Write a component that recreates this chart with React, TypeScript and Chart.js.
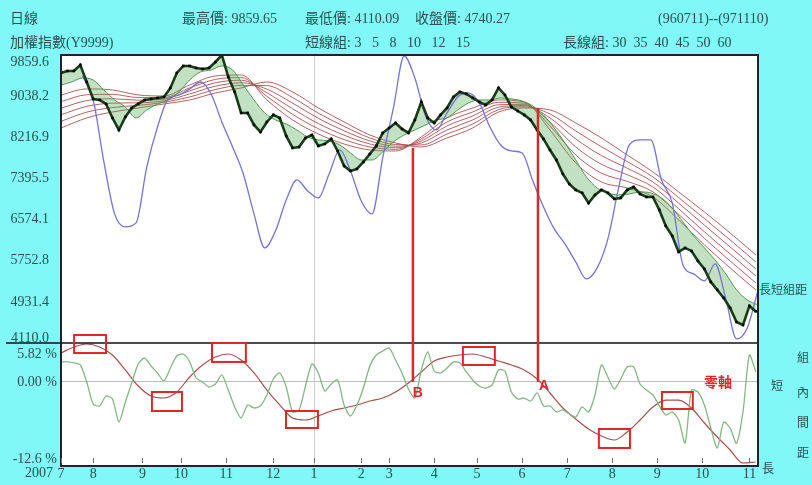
import React, { useEffect, useRef } from 'react';
import { Chart, registerables } from 'chart.js';

Chart.register(...registerables);

// ---------- axis categories / ticks ----------
const monthDays = [0, 15, 38, 56, 77, 99, 118, 140, 153, 174, 194, 215, 236, 257, 278, 299, 321];
const monthLabels = ['7', '8', '9', '10', '11', '12', '1', '2', '3', '4', '5', '6', '7', '8', '9', '10', '11'];
const priceTicks = [9859.6, 9038.2, 8216.9, 7395.5, 6574.1, 5752.8, 4931.4, 4110.0];
const spreadTicks = [5.82, 0, -12.6];
const spreadTickLabels = ['5.82 %', '0.00 %', '-12.6 %'];

// ---------- trading-day positions of the samples ----------
const days3 = [0, 3, 6, 9, 12, 15, 18, 21, 24, 27, 30, 33, 36, 39, 42, 45, 48, 51, 54, 57, 60, 63, 66, 69, 72, 75, 78, 81, 84, 87, 90, 93, 96, 99, 102, 105, 108, 111, 114, 117, 120, 123, 126, 129, 132, 135, 138, 141, 144, 147, 150, 153, 156, 159, 162, 165, 168, 171, 174, 177, 180, 183, 186, 189, 192, 195, 198, 201, 204, 207, 210, 213, 216, 219, 222, 225, 228, 231, 234, 237, 240, 243, 246, 249, 252, 255, 258, 261, 264, 267, 270, 273, 276, 279, 282, 285, 288, 291, 294, 297, 300, 303, 306, 309, 312, 315, 318, 321, 324];
const days5 = [0, 5, 10, 15, 20, 25, 30, 35, 40, 45, 50, 55, 60, 65, 70, 75, 80, 85, 90, 95, 100, 105, 110, 115, 120, 125, 130, 135, 140, 145, 150, 155, 160, 165, 170, 175, 180, 185, 190, 195, 200, 205, 210, 215, 220, 225, 230, 235, 240, 245, 250, 255, 260, 265, 270, 275, 280, 285, 290, 295, 300, 305, 310, 315, 320, 325];
const days6 = [0, 6, 12, 18, 24, 30, 36, 42, 48, 54, 60, 66, 72, 78, 84, 90, 96, 102, 108, 114, 120, 126, 132, 138, 144, 150, 156, 162, 168, 174, 180, 186, 192, 198, 204, 210, 216, 222, 228, 234, 240, 246, 252, 258, 264, 270, 276, 282, 288, 294, 300, 306, 312, 318, 324];
const days12 = [0, 12, 24, 36, 48, 60, 72, 84, 96, 108, 120, 132, 144, 156, 168, 180, 192, 204, 216, 228, 240, 252, 264, 276, 288, 300, 312, 324];

// ---------- upper panel: index (Y9999) ----------
const closePrice = [9501, 9541, 9541, 9661, 9321, 8982, 8962, 8882, 8603, 8363, 8623, 8802, 8882, 8962, 8982, 9002, 9022, 9202, 9501, 9641, 9641, 9601, 9581, 9601, 9720, 9859.65, 9421, 9122, 8703, 8703, 8463, 8323, 8523, 8663, 8603, 8243, 8004, 8024, 8204, 8263, 8044, 8084, 8184, 7944, 7645, 7545, 7585, 7724, 7884, 8044, 8303, 8403, 8503, 8383, 8303, 8563, 8922, 8603, 8503, 8663, 8802, 9022, 9122, 9082, 9002, 8922, 8862, 8962, 9202, 9062, 8822, 8742, 8663, 8563, 8363, 8184, 7964, 7764, 7485, 7285, 7166, 7106, 6906, 7066, 7166, 7106, 6986, 7006, 7166, 7225, 7086, 7026, 7026, 6766, 6447, 6247, 5928, 6008, 5948, 5748, 5589, 5329, 5170, 5010, 4810, 4530, 4470, 4850, 4740.27];

// short group (slowest line, 15)
const shortMa15 = [9261, 9321, 9401, 9361, 9162, 8962, 8822, 8603, 8762, 8882, 8962, 9122, 9361, 9521, 9561, 9641, 9561, 9261, 8962, 8703, 8563, 8483, 8363, 8224, 8164, 8144, 8064, 7904, 7764, 7764, 7924, 8124, 8263, 8363, 8463, 8563, 8603, 8762, 8902, 8962, 8962, 9002, 8982, 8942, 8842, 8663, 8403, 8104, 7764, 7425, 7206, 7106, 7066, 7086, 7126, 7106, 7006, 6806, 6527, 6247, 6008, 5768, 5489, 5170, 4970, 4870];

// long group 30 35 40 45 50 60
const longMa30 = [9062, 9182, 9162, 9062, 9042, 9261, 9441, 9461, 8962, 8563, 8283, 8084, 7964, 7944, 8224, 8603, 8802, 8962, 8922, 8363, 7705, 7325, 7206, 7026, 6567, 6068, 5609, 5170];
const longMa35 = [8930, 9066, 9074, 9010, 9010, 9202, 9373, 9409, 9034, 8675, 8387, 8172, 8024, 7976, 8184, 8523, 8723, 8914, 8898, 8443, 7864, 7501, 7337, 7126, 6679, 6200, 5748, 5309];
const longMa40 = [8798, 8950, 8986, 8958, 8978, 9142, 9305, 9357, 9106, 8786, 8491, 8259, 8084, 8008, 8144, 8443, 8643, 8866, 8874, 8523, 8024, 7677, 7469, 7225, 6790, 6331, 5888, 5449];
const longMa45 = [8667, 8834, 8898, 8906, 8946, 9082, 9237, 9305, 9178, 8898, 8595, 8347, 8144, 8040, 8104, 8363, 8563, 8818, 8850, 8603, 8184, 7852, 7601, 7325, 6902, 6463, 6028, 5589];
const longMa50 = [8535, 8719, 8810, 8854, 8914, 9022, 9170, 9253, 9249, 9010, 8699, 8435, 8204, 8072, 8064, 8283, 8483, 8770, 8826, 8683, 8343, 8028, 7732, 7425, 7014, 6595, 6168, 5728];
const longMa60 = [8403, 8603, 8722, 8802, 8882, 8962, 9102, 9202, 9321, 9122, 8802, 8523, 8263, 8104, 8024, 8204, 8403, 8722, 8802, 8762, 8503, 8204, 7864, 7525, 7126, 6726, 6307, 5868];

// blue indicator line (on price scale)
const indicatorLine = [null, null, 9441, 8962, 7724, 6687, 6427, 6507, 7625, 8423, 8982, 9062, 9182, 9321, 9082, 8523, 8024, 7485, 6687, 6008, 6347, 6966, 7365, 7146, 7006, 7485, 7964, 7545, 6946, 6687, 7804, 8802, 9840, 9401, 8643, 8363, 8703, 9022, 9102, 8902, 8423, 8064, 7944, 7904, 7345, 6826, 6387, 6088, 5728, 5389, 5609, 6188, 7205, 8064, 8164, 8164, 7365, 6906, 5669, 5489, 5349, 5689, 4990, 4192, 4411, 5167];

// ---------- lower panel: intra-group spread (%) ----------
const shortSpread = [2.98, 2.98, 2.83, 2.53, -0.02, -3.31, -3.61, -2.12, -2.57, -6.01, -3.02, -0.17, 2.68, 3.57, 2.38, 1.33, 0.13, 2.08, 3.87, 4.17, 2.98, 0.58, -0.02, -0.77, -0.32, 1.03, -1.22, -3.76, -5.41, -3.46, -3.91, -3.61, -1.97, 0.43, 1.33, -0.77, -4.51, -4.21, -0.62, 2.68, 1.33, -1.37, -0.32, 0.28, -3.46, -5.11, -3.46, -0.92, 2.38, 4.02, 4.62, 5.07, 3.27, 1.33, -1.07, -2.42, 1.78, 4.47, 1.63, 1.33, 2.08, 2.98, 2.83, 1.48, 0.28, -0.62, -0.92, -0.47, 1.78, 1.63, -1.52, -2.57, -2.42, -2.87, -1.67, -3.61, -3.61, -4.51, -4.21, -4.81, -5.26, -3.76, -4.51, -1.97, 2.53, 0.73, -1.07, 0.43, 2.23, 2.23, -0.32, -1.22, -1.97, -3.61, -4.96, -4.51, -5.71, -9.15, -1.22, -1.52, -3.46, -6.91, -9.9, -6.01, -6.91, -9.2, -4.5, 4.02, 1.48];
const longSpread = [4.32, 5.22, 5.67, 5.22, 4.02, 1.78, -0.62, -2.12, -2.42, -1.52, 0.73, 2.53, 3.72, 4.17, 3.27, 1.33, -1.22, -3.46, -5.41, -5.71, -5.11, -4.36, -3.91, -3.46, -2.87, -2.42, -1.52, -0.17, 1.48, 3.12, 3.72, 4.02, 4.17, 3.72, 3.12, 2.53, 1.78, 0.43, -1.67, -3.91, -5.56, -7.06, -8.11, -8.71, -7.51, -5.71, -3.76, -2.72, -2.72, -3.91, -6.16, -8.26, -10.2, -12.15, -12.0];

// ---------- annotations (data coordinates) ----------
const highlightBoxes = [
  { d0: 6.1, d1: 21.0, v0: 7.02, v1: 4.32 },
  { d0: 42.4, d1: 56.4, v0: -1.52, v1: -4.36 },
  { d0: 70.4, d1: 86.2, v0: 5.82, v1: 2.98 },
  { d0: 104.9, d1: 119.8, v0: -4.36, v1: -6.91 },
  { d0: 187.4, d1: 202.3, v0: 5.22, v1: 2.53 },
  { d0: 250.8, d1: 265.3, v0: -7.06, v1: -9.9 },
  { d0: 280.2, d1: 294.6, v0: -1.52, v1: -4.06 },
];
const crossMarkers = [
  { label: 'B', day: 164.1, upper: 8004, labelDay: 166.4, labelValue: -1.67 },
  { label: 'A', day: 222.4, upper: 8802, labelDay: 225.2, labelValue: -0.62 },
];

const FONT = "'Liberation Serif', 'Noto Sans CJK TC', serif";
const CJK = "'Noto Sans CJK TC', 'Liberation Serif', sans-serif";
const TEXT = '#2b4f4f';

const pts = (xs: number[], ys: (number | null)[]) => ys.map((y, i) => ({ x: xs[i], y }));

const overlayPlugin = {
  id: 'overlay',
  beforeDraw(chart: any) {
    const { ctx, chartArea: a } = chart;
    ctx.save();
    ctx.fillStyle = '#80f8f8';
    ctx.fillRect(0, 0, chart.width, chart.height);
    ctx.fillStyle = '#ffffff';
    ctx.fillRect(a.left, a.top, a.right - a.left, a.bottom - a.top);
    ctx.restore();
  },
  afterDraw(chart: any) {
    const { ctx, chartArea: a, scales } = chart;
    const xs = scales.x;
    const yu = scales.yUp;
    const yl = scales.yLow;
    ctx.save();

    // panel separator
    ctx.strokeStyle = '#111';
    ctx.lineWidth = 1.5;
    ctx.beginPath();
    ctx.moveTo(6, yu.bottom);
    ctx.lineTo(a.right, yu.bottom);
    ctx.stroke();

    // frame
    ctx.strokeStyle = '#1c2626';
    ctx.lineWidth = 2;
    ctx.strokeRect(a.left, a.top, a.right - a.left, a.bottom - a.top);

    // inner tick marks
    ctx.strokeStyle = '#6a7272';
    ctx.lineWidth = 1;
    monthDays.forEach((d) => {
      const px = Math.round(xs.getPixelForValue(d)) + 0.5;
      ctx.beginPath();
      ctx.moveTo(px, a.bottom - 8);
      ctx.lineTo(px, a.bottom - 3);
      ctx.stroke();
    });

    // crossing markers (vertical red lines)
    ctx.strokeStyle = '#d42a2a';
    ctx.lineWidth = 2.5;
    crossMarkers.forEach((m) => {
      const px = xs.getPixelForValue(m.day);
      ctx.beginPath();
      ctx.moveTo(px, yu.getPixelForValue(m.upper));
      ctx.lineTo(px, yl.getPixelForValue(0));
      ctx.stroke();
    });
    ctx.fillStyle = '#e02626';
    ctx.font = "bold 14px 'Liberation Sans', sans-serif";
    ctx.textAlign = 'center';
    ctx.textBaseline = 'middle';
    crossMarkers.forEach((m) => {
      ctx.fillText(m.label, xs.getPixelForValue(m.labelDay), yl.getPixelForValue(m.labelValue));
    });

    // highlight boxes
    ctx.strokeStyle = '#e02626';
    ctx.lineWidth = 2;
    highlightBoxes.forEach((b) => {
      const x0 = xs.getPixelForValue(b.d0);
      const x1 = xs.getPixelForValue(b.d1);
      const y0 = yl.getPixelForValue(b.v0);
      const y1 = yl.getPixelForValue(b.v1);
      ctx.strokeRect(x0, y0, x1 - x0, y1 - y0);
    });

    // zero-axis label
    ctx.font = `bold 14px ${CJK}`;
    ctx.fillText('零軸', xs.getPixelForValue(306.3), yl.getPixelForValue(0));

    // y labels
    ctx.fillStyle = TEXT;
    ctx.font = `14px ${FONT}`;
    ctx.textAlign = 'right';
    priceTicks.forEach((v, i) => {
      ctx.textBaseline = i === 0 ? 'top' : i === priceTicks.length - 1 ? 'bottom' : 'middle';
      const off = i === 0 ? 0 : i === priceTicks.length - 1 ? 2 : 0;
      ctx.fillText(v.toFixed(1), 49, yu.getPixelForValue(v) + off);
    });
    spreadTicks.forEach((v, i) => {
      ctx.textBaseline = i === 0 ? 'top' : i === spreadTicks.length - 1 ? 'bottom' : 'middle';
      const off = i === 0 ? 4 : 0;
      ctx.fillText(spreadTickLabels[i], 57, yl.getPixelForValue(v) + off);
    });

    // year label before the month axis
    ctx.textBaseline = 'top';
    ctx.fillText('2007', 53, a.bottom);

    // header
    ctx.textAlign = 'left';
    ctx.textBaseline = 'middle';
    ctx.fillText('日線', 10, 19);
    ctx.fillText('最高價: 9859.65', 182, 19);
    ctx.fillText('最低價: 4110.09', 305, 19);
    ctx.fillText('收盤價: 4740.27', 415, 19);
    ctx.fillText('(960711)--(971110)', 658, 19);
    ctx.fillText('加權指數(Y9999)', 10, 43);
    ctx.fillText('短線組: 3   5   8   10   12   15', 305, 43);
    ctx.fillText('長線組: 30  35  40  45  50  60', 563, 43);

    // right side captions
    ctx.font = `12px ${CJK}`;
    ctx.fillText('長短組距', a.right + 1, 289);
    ctx.textAlign = 'center';
    ctx.fillText('短', a.right + 19, 385);
    ['組', '內', '間', '距'].forEach((ch, i) => {
      ctx.fillText(ch, a.right + 45, [357, 392, 422, 452][i]);
    });
    ctx.fillText('長', a.right + 10, a.bottom + 2);

    ctx.restore();
  },
};

export default function App() {
  const ref = useRef<HTMLCanvasElement>(null);
  useEffect(() => {
    const longLine = (data: number[], label: string) => ({
      label,
      data: pts(days12, data),
      yAxisID: 'yUp',
      borderColor: 'rgba(168,70,70,0.85)',
      borderWidth: 1,
      pointRadius: 0,
      cubicInterpolationMode: 'monotone',
      fill: false,
      order: 5,
    });
    const chart = new Chart(ref.current as HTMLCanvasElement, {
      type: 'line',
      data: {
        datasets: [
          {
            label: 'close',
            data: pts(days3, closePrice),
            yAxisID: 'yUp',
            borderColor: '#183c18',
            borderWidth: 2.6,
            pointRadius: 1.8,
            pointStyle: 'rect',
            pointBackgroundColor: '#050505',
            pointBorderWidth: 0,
            tension: 0,
            fill: false,
            order: 0,
          },
          {
            label: 'indicator',
            data: pts(days5, indicatorLine),
            yAxisID: 'yUp',
            borderColor: '#7474d6',
            borderWidth: 1.3,
            pointRadius: 0,
            cubicInterpolationMode: 'monotone',
            fill: false,
            order: 1,
          },
          {
            label: 'ma15',
            data: pts(days5, shortMa15),
            yAxisID: 'yUp',
            borderColor: '#4f9a4f',
            borderWidth: 1,
            pointRadius: 0,
            cubicInterpolationMode: 'monotone',
            fill: { target: 0, above: 'rgba(80,165,80,0.35)', below: 'rgba(80,165,80,0.35)' },
            order: 2,
          },
          longLine(longMa30, 'ma30'),
          longLine(longMa35, 'ma35'),
          longLine(longMa40, 'ma40'),
          longLine(longMa45, 'ma45'),
          longLine(longMa50, 'ma50'),
          longLine(longMa60, 'ma60'),
          {
            label: 'shortSpread',
            data: pts(days3, shortSpread),
            yAxisID: 'yLow',
            borderColor: '#84b684',
            borderWidth: 1.3,
            pointRadius: 0,
            tension: 0.25,
            fill: false,
            order: 1,
          },
          {
            label: 'longSpread',
            data: pts(days6, longSpread),
            yAxisID: 'yLow',
            borderColor: '#a4504e',
            borderWidth: 1.2,
            pointRadius: 0,
            cubicInterpolationMode: 'monotone',
            fill: false,
            order: 1,
          },
        ],
      },
      options: {
        responsive: false,
        devicePixelRatio: 1,
        animation: false,
        events: [],
        layout: { padding: { left: 0, top: 55, right: 54, bottom: 0 } },
        plugins: { legend: { display: false }, tooltip: { enabled: false } },
        scales: {
          x: {
            type: 'linear',
            min: 0,
            max: 325,
            afterBuildTicks: (s: any) => {
              s.ticks = monthDays.map((v) => ({ value: v }));
            },
            afterFit: (s: any) => {
              s.height = 19;
            },
            ticks: {
              autoSkip: false,
              maxRotation: 0,
              padding: 0,
              color: TEXT,
              font: { family: FONT, size: 14 },
              callback: (_v: any, i: number) => monthLabels[i],
            },
            grid: {
              drawTicks: false,
              color: (c: any) => (c.tick && c.tick.value === 118 ? '#cfcfcf' : 'rgba(0,0,0,0)'),
            },
            border: { display: false },
          },
          yLow: {
            type: 'linear',
            position: 'left',
            stack: 'panels',
            stackWeight: 123,
            min: -12.6,
            max: 5.82,
            afterBuildTicks: (s: any) => {
              s.ticks = spreadTicks.map((v) => ({ value: v }));
            },
            afterFit: (s: any) => {
              s.width = 61;
            },
            ticks: { display: false },
            grid: {
              drawTicks: false,
              color: (c: any) => (c.tick && c.tick.value === 0 ? '#bdbdbd' : 'rgba(0,0,0,0)'),
            },
            border: { display: false },
          },
          yUp: {
            type: 'linear',
            position: 'left',
            stack: 'panels',
            stackWeight: 288,
            min: 4110.0,
            max: 9859.6,
            afterBuildTicks: (s: any) => {
              s.ticks = priceTicks.map((v) => ({ value: v }));
            },
            afterFit: (s: any) => {
              s.width = 61;
            },
            ticks: { display: false },
            grid: { display: false },
            border: { display: false },
          },
        },
      } as any,
      plugins: [overlayPlugin],
    } as any);
    return () => chart.destroy();
  }, []);
  return (
    <div style={{ position: 'absolute', left: 0, top: 0, width: 812, height: 485 }}>
      <canvas ref={ref} width={812} height={485} style={{ display: 'block' }} />
    </div>
  );
}
